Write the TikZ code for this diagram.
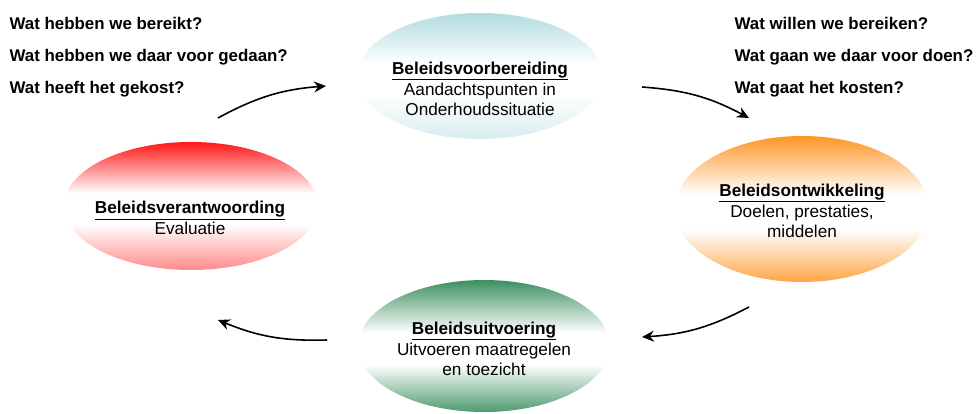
\documentclass[tikz,border=0pt]{standalone}
\usepackage{fontspec}
\setmainfont{Liberation Sans}
\usepackage{tikz}
\usetikzlibrary{shapes.geometric,arrows.meta}
\definecolor{cycBlue}{HTML}{B0DBDF}
\definecolor{cycRed}{HTML}{FF1616}
\definecolor{cycPink}{HTML}{FF8A8A}
\definecolor{cycOrange}{HTML}{FF9626}
\definecolor{cycGreen}{HTML}{3C8F60}
\colorlet{phasetop}{cycRed}
\colorlet{phasebot}{cycPink}
\pgfdeclareverticalshading[phasetop,phasebot]{phaseshade}{100bp}{color(0bp)=(phasebot); color(25bp)=(phasebot); color(43bp)=(white); color(55bp)=(white); color(75bp)=(phasetop); color(100bp)=(phasetop)}

\begin{document}
\begin{tikzpicture}[x=1pt, y=1pt,
  phase/.style={ellipse, inner sep=0pt},
  phasefill/.style 2 args={/utils/exec={\colorlet{phasetop}{#1}\colorlet{phasebot}{#2}}, shading=phaseshade},
  phasetext/.style={align=center, font=\fontsize{17.2}{20.5}\selectfont},
  question/.style={anchor=base west, font=\fontsize{16.9}{20}\selectfont\bfseries},
  cyclearrow/.style={-{Stealth[length=12pt,width=11pt,inset=4pt]}, line width=1.6pt}]
  \useasboundingbox (0,0) rectangle (979,-414);

  % Ellipses
  \node[phase, minimum width=246, minimum height=126, phasefill={cycBlue}{cycBlue!50!white}] (prep) at (480,-76) {};
  \node[phase, minimum width=254, minimum height=128, phasefill={cycRed}{cycPink}] (verant) at (191,-206) {};
  \node[phase, minimum width=254, minimum height=146, phasefill={cycOrange}{cycOrange!85!white}] (ontw) at (802,-209) {};
  \node[phase, minimum width=252, minimum height=132, phasefill={cycGreen}{cycGreen!90!white}] (uitv) at (484,-346) {};

  % Ellipse texts
  \node[phasetext] (prepText) at (480,-89) {\underline{\textbf{Beleidsvoorbereiding}}\\Aandachtspunten in\\Onderhoudssituatie};
  \node[phasetext] (verantText) at (190,-218) {\underline{\textbf{Beleidsverantwoording}}\\Evaluatie};
  \node[phasetext] (ontwText) at (802,-211) {\underline{\textbf{Beleidsontwikkeling}}\\Doelen, prestaties,\\middelen};
  \node[phasetext] (uitvText) at (484,-349) {\underline{\textbf{Beleidsuitvoering}}\\Uitvoeren maatregelen\\en toezicht};

  % Questions
  \node[question] (pastA) at (6,-29.5) {Wat hebben we bereikt?};
  \node[question] (pastB) at (6,-61.5) {Wat hebben we daar voor gedaan?};
  \node[question] (pastC) at (6,-93.5) {Wat heeft het gekost?};
  \node[question] (nextA) at (731,-29.5) {Wat willen we bereiken?};
  \node[question] (nextB) at (731,-61.5) {Wat gaan we daar voor doen?};
  \node[question] (nextC) at (731,-93.5) {Wat gaat het kosten?};

  % Arrows
  \coordinate (arrA1) at (218,-118);
  \coordinate (arrA2) at (326,-86);
  \coordinate (arrB1) at (642,-87);
  \coordinate (arrB2) at (749,-118);
  \coordinate (arrC1) at (749,-307);
  \coordinate (arrC2) at (642,-337);
  \coordinate (arrD1) at (327,-340);
  \coordinate (arrD2) at (218,-320);
  \draw[cyclearrow] (arrA1) to[bend left=12] (arrA2);
  \draw[cyclearrow] (arrB1) to[bend left=12] (arrB2);
  \draw[cyclearrow] (arrC1) to[bend left=12] (arrC2);
  \draw[cyclearrow] (arrD1) to[bend left=12] (arrD2);
\end{tikzpicture}
\end{document}
